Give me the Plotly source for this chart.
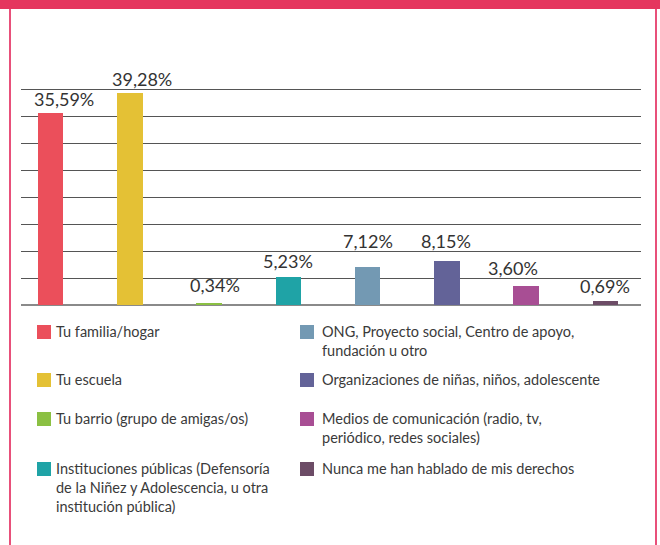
import plotly.graph_objects as go

# ---- data ----
categories = [
    "Tu familia/hogar",
    "Tu escuela",
    "Tu barrio (grupo de amigas/os)",
    "Instituciones públicas (Defensoría de la Niñez y Adolescencia, u otra institución pública)",
    "ONG, Proyecto social, Centro de apoyo, fundación u otro",
    "Organizaciones de niñas, niños, adolescente",
    "Medios de comunicación (radio, tv, periódico, redes sociales)",
    "Nunca me han hablado de mis derechos",
]
legend_labels = [
    "Tu familia/hogar",
    "Tu escuela",
    "Tu barrio (grupo de amigas/os)",
    "Instituciones públicas (Defensoría<br>de la Niñez y Adolescencia, u otra<br>institución pública)",
    "ONG, Proyecto social, Centro de apoyo,<br>fundación u otro",
    "Organizaciones de niñas, niños, adolescente",
    "Medios de comunicación (radio, tv,<br>periódico, redes sociales)",
    "Nunca me han hablado de mis derechos",
]
values = [35.59, 39.28, 0.34, 5.23, 7.12, 8.15, 3.60, 0.69]
colors = ["#EB4F5B", "#E4C135", "#8BC043", "#1FA3A6",
          "#7399B3", "#636398", "#A84E94", "#6C4C66"]

# label placement tweaks (pixels)
label_dx = [13, 12, 6, 0, 0, -1, -13, 0]
label_dy = [1, 1, 5, 3, 13, 7, 5, 2]

W, H = 660, 545
ML, MR, MT, MB = 21, 19, 62, 240
PW, PH = W - ML - MR, H - MT - MB


def px(x):
    return (x - ML) / PW


def py(y):
    return (H - MB - y) / PH


xs = list(range(len(values)))
fig = go.Figure()
fig.add_trace(go.Bar(
    x=xs, y=values, width=0.32,
    marker=dict(color=colors, line=dict(width=0)),
    hoverinfo="skip", showlegend=False,
))

text_font = "Lato, 'Open Sans', sans-serif"
for i, v in enumerate(values):
    fig.add_annotation(
        x=xs[i], y=v, xref="x", yref="y",
        text=f"{v:.2f}".replace(".", ",") + "%",
        showarrow=False, xanchor="center", yanchor="bottom",
        xshift=label_dx[i], yshift=label_dy[i],
        font=dict(family=text_font, size=18, color="#333333"),
    )

shapes = []
# frame
shapes.append(dict(type="rect", xref="paper", yref="paper",
                   x0=px(0), x1=px(W), y0=py(9), y1=py(0),
                   fillcolor="#E5365E", line=dict(width=0), layer="above"))
shapes.append(dict(type="line", xref="paper", yref="paper",
                   x0=px(10), x1=px(10), y0=py(H), y1=py(9),
                   line=dict(color="#E8507A", width=2)))
shapes.append(dict(type="line", xref="paper", yref="paper",
                   x0=px(656), x1=px(656), y0=py(H), y1=py(9),
                   line=dict(color="#E8507A", width=2)))

# custom legend
col_sq_x = [37, 300]
col_tx_x = [54, 320]
row_cy = [332, 380, 419, 469]
for i, lab in enumerate(legend_labels):
    col, row = i // 4, i % 4
    cy = row_cy[row]
    x0 = col_sq_x[col]
    shapes.append(dict(type="rect", xref="paper", yref="paper",
                       x0=px(x0), x1=px(x0 + 14), y0=py(cy + 7), y1=py(cy - 7),
                       fillcolor=colors[i], line=dict(width=0)))
    fig.add_annotation(
        x=px(col_tx_x[col]), y=py(cy - 11), xref="paper", yref="paper",
        text=lab, showarrow=False, xanchor="left", yanchor="top", align="left",
        font=dict(family=text_font, size=14.5, color="#3a3a3a"),
    )

fig.update_layout(
    width=W, height=H,
    margin=dict(l=ML, r=MR, t=MT, b=MB, pad=0),
    paper_bgcolor="white", plot_bgcolor="white",
    shapes=shapes,
    bargap=0,
    xaxis=dict(range=[-0.373, 7.449], showticklabels=False, showgrid=False,
               zeroline=False, ticks="", fixedrange=True),
    yaxis=dict(range=[0, 45], dtick=5, showticklabels=False, showgrid=True,
               gridcolor="#555555", gridwidth=1.2, zeroline=True,
               zerolinecolor="#8a8a8a", zerolinewidth=2, ticks="",
               fixedrange=True),
)

fig.write_html(
    "out.html",
    config={"displayModeBar": False},
    post_script="document.body.style.margin='0';document.body.style.overflow='hidden';",
)
